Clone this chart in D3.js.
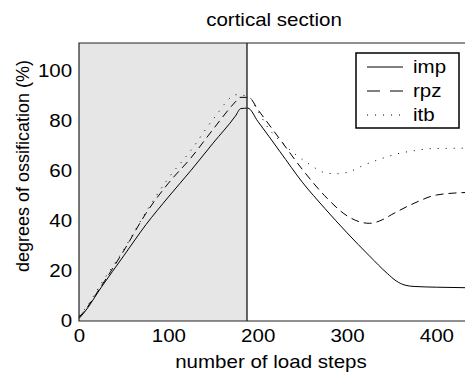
<!DOCTYPE html>
<html>
<head>
<meta charset="utf-8">
<script src="https://cdn.jsdelivr.net/npm/d3@7"></script>
<style>
  body { margin: 0; background: #fff; }
  svg text { font-family: "Liberation Sans", Arial, Helvetica, sans-serif; fill: #000; }
</style>
</head>
<body>
<div id="chart"></div>
<script>
// load steps and degree of ossification (%) for each model
const steps = [0, 5, 25, 50, 75, 100, 125, 150, 175, 181, 189, 200, 225, 250, 275, 300, 325, 345, 355, 365, 375, 400, 432];
const imp   = [1, 3, 13.5, 26, 38.5, 49.5, 60, 71, 81.8, 84.8, 85, 79.8, 67.6, 55.4, 45, 35.2, 26, 19, 16, 14.3, 13.8, 13.5, 13.3];

const rpzSteps = [0, 5, 25, 50, 75, 100, 125, 150, 175, 180, 190, 200, 225, 250, 275, 300, 315, 325, 340, 350, 375, 400, 432];
const rpz      = [1.5, 3.5, 14, 28, 43, 55, 65, 76.5, 87.5, 89.3, 89.3, 84.5, 72.5, 60.5, 50, 42, 39.5, 39, 40.5, 42.5, 47, 50.3, 51.3];

const itbSteps = [0, 5, 25, 50, 75, 100, 125, 150, 177, 190, 200, 210, 231, 256, 278, 290, 300, 320, 340, 357, 375, 394, 432];
const itb      = [2, 4, 15, 28.5, 43.5, 57, 68, 80.5, 90.4, 89.5, 84, 78, 70, 63, 59, 58.8, 59.3, 62.4, 65, 66.8, 68, 68.8, 69];

const seriesNames = ["imp", "rpz", "itb"];
const dashes = ["none", "8,5", "1,7"];
const legendDashes = ["none", "13,10", "1,7"];

const xTicks = [0, 100, 200, 300, 400];
const yTicks = [0, 20, 40, 60, 80, 100];
const loadEnd = 188; // end of the loading phase (shaded)

const width = 465, height = 376;
const margin = {top: 43, right: 0, bottom: 55, left: 79};
const sx = 1.14; // the source picture is stretched sideways

const svg = d3.select("#chart").append("svg")
    .attr("width", width)
    .attr("height", height);

const x = d3.scaleLinear().domain([0, 432]).range([margin.left, width - margin.right]);
const y = d3.scaleLinear().domain([0, 111]).range([height - margin.bottom, margin.top]);

// shaded loading region
svg.append("rect")
    .attr("x", x(0))
    .attr("y", y(111))
    .attr("width", x(loadEnd) - x(0))
    .attr("height", y(0) - y(111))
    .attr("fill", "#e6e6e6");

const data = [
    steps.map((s, i) => [s, imp[i]]),
    rpzSteps.map((s, i) => [s, rpz[i]]),
    itbSteps.map((s, i) => [s, itb[i]])
];

const line = d3.line()
    .x(d => x(d[0]))
    .y(d => y(d[1]))
    .curve(d3.curveMonotoneX);

svg.append("g")
    .selectAll("path")
    .data(data)
    .join("path")
    .attr("d", line)
    .attr("fill", "none")
    .attr("stroke", "#000")
    .attr("stroke-width", 1)
    .attr("stroke-dasharray", (d, i) => dashes[i]);

// vertical divider
svg.append("line")
    .attr("x1", x(loadEnd)).attr("x2", x(loadEnd))
    .attr("y1", y(111)).attr("y2", y(0))
    .attr("stroke", "#333")
    .attr("stroke-width", 1.5);

// frame
svg.append("path")
    .attr("d", `M${x(432)},${y(111)}H${x(0)}V${y(0)}H${x(432)}`)
    .attr("fill", "none")
    .attr("stroke", "#222")
    .attr("stroke-width", 1.2);

// axes (labels only)
const xAxis = d3.axisBottom(x).tickValues(xTicks).tickSize(0).tickPadding(8);
const gx = svg.append("g").attr("transform", `translate(0,${y(0)})`).call(xAxis);
gx.select(".domain").remove();
gx.selectAll("text").style("font-size", "18px").attr("transform", `scale(${sx},1)`);

const yAxis = d3.axisLeft(y).tickValues(yTicks).tickSize(0).tickPadding(6);
const gy = svg.append("g").attr("transform", `translate(${x(0)},0)`).call(yAxis);
gy.select(".domain").remove();
gy.selectAll("text").style("font-size", "18px").attr("transform", `scale(${sx},1)`);

svg.append("text")
    .attr("transform", `translate(274,26) scale(${sx},1)`)
    .attr("text-anchor", "middle")
    .style("font-size", "18px")
    .text("cortical section");

svg.append("text")
    .attr("transform", `translate(271,368) scale(${sx},1)`)
    .attr("text-anchor", "middle")
    .style("font-size", "18px")
    .text("number of load steps");

svg.append("text")
    .attr("transform", "translate(29,166) rotate(-90)")
    .attr("text-anchor", "middle")
    .style("font-size", "18px")
    .text("degrees of ossification (%)");

// legend
const lg = svg.append("g");
lg.append("rect")
    .attr("x", 356).attr("y", 53)
    .attr("width", 103).attr("height", 75)
    .attr("fill", "#fff")
    .attr("stroke", "#000")
    .attr("stroke-width", 1.5);

const rows = lg.selectAll("g.row")
    .data(seriesNames)
    .join("g")
    .attr("class", "row")
    .attr("transform", (d, i) => `translate(0,${67 + i * 24})`);

rows.append("line")
    .attr("x1", 367).attr("x2", 403)
    .attr("stroke", "#000")
    .attr("stroke-width", 1)
    .attr("stroke-dasharray", (d, i) => legendDashes[i]);

rows.append("text")
    .attr("transform", `translate(413,0) scale(${sx},1)`)
    .attr("dy", "0.35em")
    .style("font-size", "18px")
    .text(d => d);
</script>
</body>
</html>
